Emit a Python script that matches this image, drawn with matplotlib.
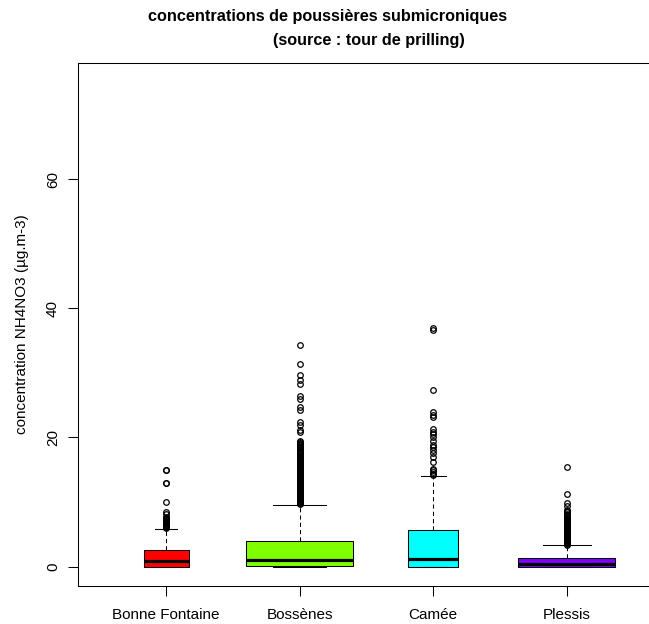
import matplotlib
matplotlib.use("Agg")
import matplotlib.pyplot as plt

plt.rcParams['font.family'] = ['Liberation Sans', 'DejaVu Sans']

sites = ['Bonne Fontaine', 'Bossènes', 'Camée', 'Plessis']
colors = ['#FF0000', '#80FF00', '#00FFFF', '#8000FF']

# box statistics (µg/m3)
q1 = [0.0, 0.1, 0.0, 0.0]
med = [0.8, 0.95, 1.2, 0.4]
q3 = [2.5, 4.0, 5.7, 1.35]
whislo = [0.0, 0.0, 0.0, 0.0]
whishi = [5.85, 9.55, 14.1, 3.35]

# outliers
out_bf = [6.0, 6.1, 6.2, 6.3, 6.4, 6.5, 6.6, 6.7, 6.8, 6.9, 7.0, 7.1, 7.2, 7.3,
          7.4, 7.5, 7.6, 7.75, 8.2, 8.5, 10.0, 13.0, 13.0, 15.0, 15.0]
out_bos = [9.7, 9.8, 9.9, 10.0, 10.1, 10.2, 10.3, 10.4, 10.5, 10.6, 10.7, 10.8,
           10.9, 11.0, 11.1, 11.2, 11.3, 11.4, 11.5, 11.6, 11.7, 11.8, 11.9, 12.0,
           12.1, 12.2, 12.3, 12.4, 12.5, 12.6, 12.7, 12.8, 12.9, 13.0, 13.1, 13.2,
           13.3, 13.4, 13.5, 13.6, 13.7, 13.8, 13.9, 14.0, 14.1, 14.2, 14.3, 14.4,
           14.5, 14.6, 14.7, 14.8, 14.9, 15.0, 15.1, 15.2, 15.3, 15.4, 15.5, 15.6,
           15.7, 15.8, 15.9, 16.0, 16.1, 16.2, 16.3, 16.4, 16.5, 16.6, 16.7, 16.8,
           16.9, 17.0, 17.2, 17.4, 17.5, 17.7, 17.8, 18.0, 18.1, 18.3, 18.5, 18.6,
           18.8, 18.9, 19.0, 19.2, 19.3, 19.5,
           20.8, 21.1, 22.0, 22.4, 24.3, 24.75, 26.0, 26.35, 28.3, 28.9, 29.7, 31.4, 34.3]
out_cam = [14.2, 14.4, 14.6, 14.9, 15.1, 16.2, 17.05, 17.6, 18.1, 18.5, 18.9, 19.5,
           20.0, 20.5, 20.9, 21.3, 23.1, 23.5, 23.9, 27.4, 36.6, 36.9]
out_ple = [3.4, 3.5, 3.6, 3.7, 3.8, 3.9, 4.0, 4.1, 4.2, 4.3, 4.4, 4.5, 4.6, 4.7,
           4.8, 4.9, 5.0, 5.1, 5.2, 5.3, 5.4, 5.5, 5.6, 5.7, 5.8, 5.9, 6.0, 6.1,
           6.2, 6.3, 6.4, 6.5, 6.6, 6.7, 6.8, 6.9, 7.0, 7.1, 7.2, 7.3, 7.4, 7.6,
           7.8, 8.0, 8.2, 8.4, 8.6, 8.8, 9.35, 9.9, 11.3, 15.5]
outliers = [out_bf, out_bos, out_cam, out_ple]

yticks = [0, 20, 40, 60]

# relative box widths (varwidth)
widths = [0.337, 0.8, 0.374, 0.726]

W, H = 649, 624
fig = plt.figure(figsize=(W / 100, H / 100), dpi=100)
ax = fig.add_axes([78 / W, (H - 586) / H, (655 - 78) / W, (586 - 63) / H])

stats = []
for i, s in enumerate(sites):
    stats.append({'label': s, 'q1': q1[i], 'med': med[i], 'q3': q3[i],
                  'whislo': whislo[i], 'whishi': whishi[i], 'fliers': outliers[i]})

lw = 0.75
bp = ax.bxp(stats, positions=range(1, 5), widths=widths,
            capwidths=[w * 0.5 for w in widths], patch_artist=True,
            boxprops=dict(linewidth=lw, edgecolor='black'),
            medianprops=dict(color='black', linewidth=2.3, solid_capstyle='butt'),
            whiskerprops=dict(color='black', linewidth=lw, linestyle=(0, (4, 3))),
            capprops=dict(color='black', linewidth=lw),
            flierprops=dict(marker='o', markerfacecolor='none', markeredgecolor='black',
                            markersize=4, markeredgewidth=0.9, linestyle='none'))
for patch, c in zip(bp['boxes'], colors):
    patch.set_facecolor(c)

ax.set_xlim(0.34, 4.66)
ax.set_ylim(-3, 78)
ax.set_yticks(yticks)
ax.set_yticklabels([str(v) for v in yticks], rotation=90, va='center', fontsize=11)
ax.set_xticks(range(1, 5))
ax.set_xticklabels(sites, fontsize=11)
ax.tick_params(axis='both', length=7, width=lw, direction='out', color='black')
ax.tick_params(axis='x', pad=9)
ax.tick_params(axis='y', pad=6)
for sp in ax.spines.values():
    sp.set_linewidth(lw)

ax.set_ylabel('concentration NH4NO3 (µg.m-3)', fontsize=11, labelpad=12)

fig.text(327.5 / W, 1 - 17 / H, 'concentrations de poussières submicroniques',
         ha='center', va='center', fontsize=11.7, fontweight='bold')
fig.text(368.5 / W, 1 - 40 / H, '(source : tour de prilling)',
         ha='center', va='center', fontsize=11.7, fontweight='bold')

fig.savefig('out.png', dpi=100)
